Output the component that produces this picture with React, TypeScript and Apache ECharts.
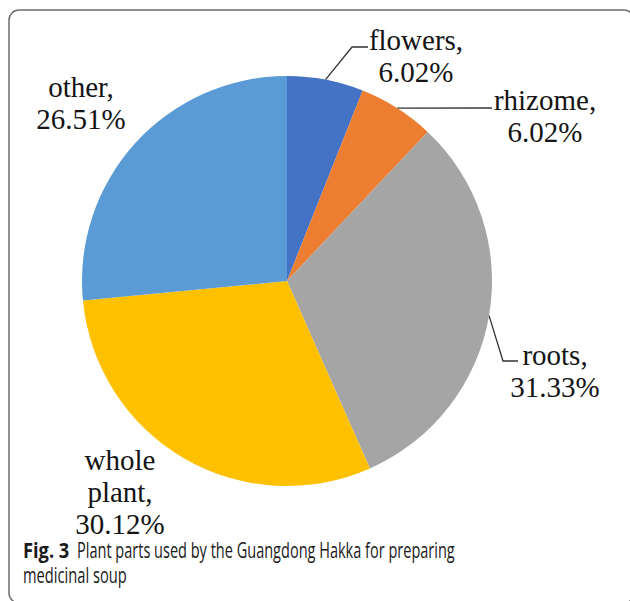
import React, { useEffect, useRef } from "react";
import * as echarts from "echarts";

const categories = ["flowers", "rhizome", "roots", "whole plant", "other"];
const values = [6.02, 6.02, 31.33, 30.12, 26.51];
const colors = ["#4472C4", "#ED7D31", "#A5A5A5", "#FFC000", "#5B9BD5"];
const captionLabel = "Fig. 3";
const captionLines = [
  "Plant parts used by the Guangdong Hakka for preparing",
  "medicinal soup",
];

// label placement (layout only): label centre, and leader-line bends relative to it
const labelPos: Record<string, { x: number; y: number; line: number[][] | null }> = {
  flowers: { x: 416, y: 56, line: [[-64, -9], [-48, -9]] },
  rhizome: { x: 545, y: 116, line: [[-53, -8]] },
  roots: { x: 555, y: 371, line: [[-52, -10], [-37, -10]] },
  "whole plant": { x: 120, y: 492, line: null },
  other: { x: 81, y: 103, line: null },
};

const serif = "'Liberation Serif', 'Times New Roman', serif";
const sans = "'Open Sans', 'Noto Sans', sans-serif";

export default function App() {
  const ref = useRef<HTMLDivElement>(null);
  useEffect(() => {
    const chart = echarts.init(ref.current!, null, { renderer: "svg" });
    const data = categories.map((name, i) => ({
      name,
      value: values[i],
      itemStyle: { color: colors[i] },
      labelLine: { show: !!labelPos[name].line },
    }));
    chart.setOption({
      animation: false,
      backgroundColor: "#ffffff",
      graphic: [
        {
          type: "rect",
          shape: { x: 9, y: 10, width: 625, height: 593, r: 10 },
          style: { fill: "none", stroke: "#6e6e6e", lineWidth: 1.5 },
          z: 10,
        },
        {
          type: "text",
          x: 23,
          y: 550,
          scaleX: 0.87,
          style: {
            text: captionLabel,
            verticalAlign: "middle",
            fontFamily: sans,
            fontWeight: "bold",
            fontSize: 21,
            fill: "#1a1a1a",
          },
        },
        {
          type: "text",
          x: 77,
          y: 550,
          scaleX: 0.692,
          style: {
            text: captionLines[0],
            verticalAlign: "middle",
            fontFamily: sans,
            fontSize: 21,
            fill: "#1a1a1a",
          },
        },
        {
          type: "text",
          x: 23,
          y: 575,
          scaleX: 0.7,
          style: {
            text: captionLines[1],
            verticalAlign: "middle",
            fontFamily: sans,
            fontSize: 21,
            fill: "#1a1a1a",
          },
        },
      ],
      series: [
        {
          type: "pie",
          center: [287, 281],
          radius: 205,
          startAngle: 90,
          clockwise: true,
          data,
          label: {
            show: true,
            position: "outside",
            overflow: "none",
            fontFamily: serif,
            fontSize: 29,
            lineHeight: 32,
            color: "#141414",
            formatter: (p: any) => `${p.name.replace(" ", "\n")},\n${p.value.toFixed(2)}%`,
          },
          labelLine: {
            show: true,
            lineStyle: { color: "#333333", width: 1.3 },
          },
          emphasis: { disabled: true },
          labelLayout: (params: any) => {
            const name = categories[params.dataIndex];
            const pos = labelPos[name];
            const out: any = { x: pos.x, y: pos.y, align: "center", verticalAlign: "middle" };
            if (pos.line && params.labelLinePoints && params.labelLinePoints.length) {
              const p0 = params.labelLinePoints[0];
              out.labelLinePoints = [
                [p0[0], p0[1]],
                ...pos.line.map((d) => [pos.x + d[0], pos.y + d[1]]),
              ];
            }
            return out;
          },
        },
      ],
    });
    return () => chart.dispose();
  }, []);
  return (
    <div
      ref={ref}
      style={{ position: "fixed", left: 0, top: 0, width: 630, height: 601 }}
    />
  );
}
